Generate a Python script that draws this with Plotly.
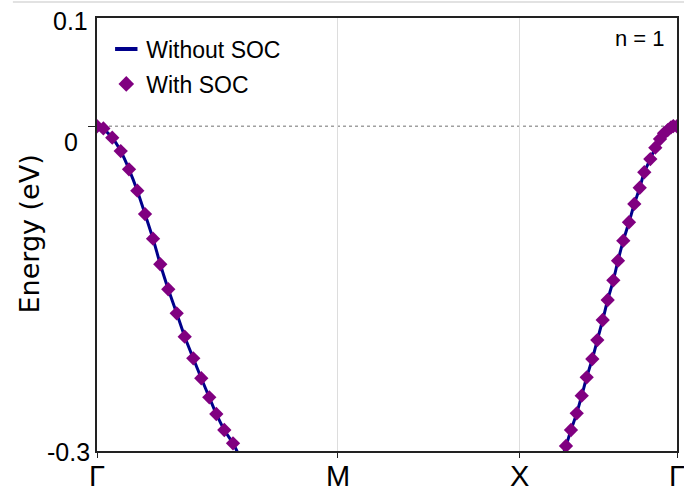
import plotly.graph_objects as go

# k-path positions (fraction of the total path length)
k_labels = ["Γ", "M", "X", "Γ"]
k_ticks = [0.0, 0.4155, 0.7276, 1.0]

# Valence band, without spin-orbit coupling (None separates the two visible branches)
k_nosoc = [0.0, 0.0081, 0.0263, 0.0409, 0.0552, 0.0695, 0.0828, 0.0966, 0.1091, 0.1229,
           0.1374, 0.1512, 0.1660, 0.1798, 0.1936, 0.2057, 0.2195, 0.2345, 0.2483,
           None,
           0.8000, 0.8086, 0.8172, 0.8271, 0.8357, 0.8443, 0.8540, 0.8626, 0.8719, 0.8805,
           0.8902, 0.8983, 0.9074, 0.9172, 0.9264, 0.9357, 0.9436, 0.9540, 0.9626, 0.9707,
           0.9776, 0.9840, 0.9897, 0.9936, 1.0]
e_nosoc = [0.0, -0.0012, -0.0106, -0.0229, -0.0398, -0.0595, -0.0811, -0.1039, -0.1275, -0.1506,
           -0.1728, -0.1944, -0.2144, -0.2328, -0.2504, -0.2658, -0.2806, -0.2929, -0.3080,
           None,
           -0.3090, -0.2954, -0.2806, -0.2652, -0.2489, -0.2319, -0.2150, -0.1975, -0.1790, -0.1605,
           -0.1423, -0.1242, -0.1057, -0.0887, -0.0718, -0.0568, -0.0425, -0.0303, -0.0198, -0.0118,
           -0.0065, -0.0035, -0.0010, 0.0, 0.0]

# Valence band, with spin-orbit coupling
k_soc = [0.0, 0.0110, 0.0263, 0.0409, 0.0552, 0.0695, 0.0828, 0.0966, 0.1091, 0.1229,
         0.1374, 0.1512, 0.1660, 0.1798, 0.1936, 0.2057, 0.2195, 0.2345,
         0.8086, 0.8172, 0.8271, 0.8357, 0.8443, 0.8540, 0.8626, 0.8719, 0.8805,
         0.8902, 0.8983, 0.9074, 0.9172, 0.9264, 0.9357, 0.9436, 0.9540, 0.9626, 0.9707,
         0.9776, 0.9840, 0.9897, 0.9936, 1.0]
e_soc = [0.0, -0.0020, -0.0106, -0.0229, -0.0398, -0.0595, -0.0811, -0.1039, -0.1275, -0.1506,
         -0.1728, -0.1944, -0.2144, -0.2328, -0.2504, -0.2658, -0.2806, -0.2929,
         -0.2954, -0.2806, -0.2652, -0.2489, -0.2319, -0.2150, -0.1975, -0.1790, -0.1605,
         -0.1423, -0.1242, -0.1057, -0.0887, -0.0718, -0.0568, -0.0425, -0.0303, -0.0198, -0.0118,
         -0.0065, -0.0035, -0.0010, 0.0002, 0.0]

# Energy axis
e_range = [-0.3, 0.1]
e_tick_vals = [0.1, 0.0, -0.3]
e_tick_text = ["0.1", "0", "-0.3"]

LINE_COLOR = "#00008b"
MARK_COLOR = "#800080"
FONT = "Liberation Sans, Arial, sans-serif"

fig = go.Figure()

fig.add_trace(go.Scatter(
    x=k_nosoc, y=e_nosoc, mode="lines", name="Without SOC",
    line=dict(color=LINE_COLOR, width=3, shape="spline", smoothing=0.6),
    connectgaps=False, showlegend=False,
))
fig.add_trace(go.Scatter(
    x=k_soc, y=e_soc, mode="markers", name="With SOC",
    marker=dict(symbol="diamond", size=11, color=MARK_COLOR),
    showlegend=False,
))

# Legend entries
fig.add_trace(go.Scatter(
    x=[None], y=[None], mode="markers", name="Without SOC", legendgroup="a",
    marker=dict(symbol="line-ew", size=19, line=dict(color=LINE_COLOR, width=4)),
))
fig.add_trace(go.Scatter(
    x=[None], y=[None], mode="markers", name="With SOC", legendgroup="b",
    marker=dict(symbol="diamond", size=12, color=MARK_COLOR),
))

# Fermi level reference
fig.add_shape(type="line", xref="paper", x0=0, x1=1, yref="y", y0=0, y1=0,
              line=dict(color="#a0a0a0", width=1.5, dash="dot"), layer="below")
# thin rule across the top of the page
fig.add_shape(type="line", xref="paper", x0=-0.145, x1=1.02, yref="paper", y0=1.037, y1=1.037,
              line=dict(color="#d9d9d9", width=1.5))

# Energy tick labels
label_offsets = {"0.1": (-7, -3), "0": (-17, -16), "-0.3": (-5, -1)}
for v, t in zip(e_tick_vals, e_tick_text):
    dx, dy = label_offsets[t]
    fig.add_annotation(x=0, xref="paper", y=v, yref="y", text=t, showarrow=False,
                       xanchor="right", yanchor="middle", xshift=dx, yshift=dy,
                       font=dict(family=FONT, size=25, color="#000000"))

# High-symmetry point labels
for k, lab in zip(k_ticks, k_labels):
    fig.add_annotation(x=k, xref="x", y=0, yref="paper", text=lab, showarrow=False,
                       xanchor="center", yanchor="middle", yshift=-25,
                       font=dict(family=FONT, size=29, color="#000000"))

fig.add_annotation(x=-0.1172, xref="paper", y=0.5, yref="paper", text="Energy (eV)",
                   textangle=-90, showarrow=False, xanchor="center", yanchor="middle",
                   font=dict(family="DejaVu Sans, sans-serif", size=27, color="#000000"))

fig.add_annotation(x=1, xref="paper", y=1, yref="paper", text="n = 1", showarrow=False,
                   xanchor="right", yanchor="top", xshift=-10, yshift=-6,
                   font=dict(family=FONT, size=22, color="#000000"))

fig.update_layout(
    width=684, height=492,
    margin=dict(l=97, r=7, t=18, b=41),
    paper_bgcolor="white", plot_bgcolor="white",
    font=dict(family=FONT, color="#000000"),
    legend=dict(x=0.016, y=0.978, xanchor="left", yanchor="top",
                font=dict(family=FONT, size=23, color="#000000"),
                bgcolor="rgba(0,0,0,0)", tracegroupgap=2, itemsizing="trace"),
    xaxis=dict(range=[0, 1], tickvals=k_ticks, showticklabels=False,
               ticks="outside", ticklen=5, tickcolor="#222222", automargin=False,
               showgrid=True, gridcolor="#dddddd", gridwidth=1,
               showline=True, linecolor="#222222", linewidth=1.5, mirror=True,
               zeroline=False),
    yaxis=dict(range=e_range, tickvals=[0.0], ticktext=[""], automargin=False,
               ticks="outside", ticklen=7, tickcolor="#222222",
               showgrid=False, showline=True, linecolor="#222222", linewidth=1.5,
               mirror=True, zeroline=False),
)

fig.write_html("out.html")
